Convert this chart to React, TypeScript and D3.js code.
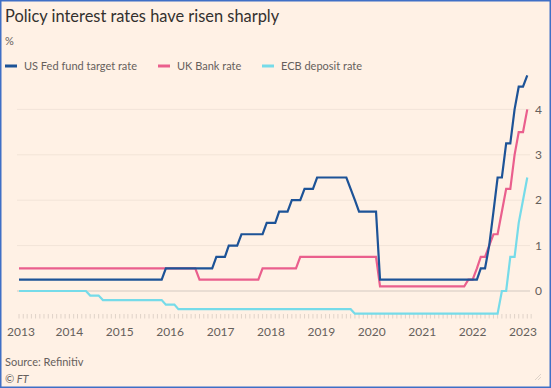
import React from 'react';
import * as d3 from 'd3';

// monthly observations (month-end rate), only the months around each change
const fedRate: [string, number][] = [
  ["2013-01", 0.25], ["2015-11", 0.25], ["2015-12", 0.5], ["2016-11", 0.5], ["2016-12", 0.75],
  ["2017-02", 0.75], ["2017-03", 1.0], ["2017-05", 1.0], ["2017-06", 1.25], ["2017-11", 1.25],
  ["2017-12", 1.5], ["2018-02", 1.5], ["2018-03", 1.75], ["2018-05", 1.75], ["2018-06", 2.0],
  ["2018-08", 2.0], ["2018-09", 2.25], ["2018-11", 2.25], ["2018-12", 2.5], ["2019-07", 2.5],
  ["2019-08", 2.25], ["2019-09", 2.0], ["2019-10", 1.75], ["2020-02", 1.75], ["2020-03", 0.25],
  ["2022-02", 0.25], ["2022-03", 0.5], ["2022-04", 0.5], ["2022-05", 1.0], ["2022-06", 1.75],
  ["2022-07", 2.5], ["2022-08", 2.5], ["2022-09", 3.25], ["2022-10", 3.25], ["2022-11", 4.0],
  ["2022-12", 4.5], ["2023-01", 4.5], ["2023-02", 4.75],
];

const ukRate: [string, number][] = [
  ["2013-01", 0.5], ["2016-07", 0.5], ["2016-08", 0.25], ["2017-10", 0.25], ["2017-11", 0.5],
  ["2018-07", 0.5], ["2018-08", 0.75], ["2020-02", 0.75], ["2020-03", 0.1], ["2021-11", 0.1],
  ["2021-12", 0.25], ["2022-01", 0.25], ["2022-02", 0.5], ["2022-03", 0.75], ["2022-04", 0.75],
  ["2022-05", 1.0], ["2022-06", 1.25], ["2022-07", 1.25], ["2022-08", 1.75], ["2022-09", 2.25],
  ["2022-10", 2.25], ["2022-11", 3.0], ["2022-12", 3.5], ["2023-01", 3.5], ["2023-02", 4.0],
];

const ecbRate: [string, number][] = [
  ["2013-01", 0], ["2014-05", 0], ["2014-06", -0.1], ["2014-08", -0.1], ["2014-09", -0.2],
  ["2015-11", -0.2], ["2015-12", -0.3], ["2016-02", -0.3], ["2016-03", -0.4], ["2019-08", -0.4],
  ["2019-09", -0.5], ["2022-07", -0.5], ["2022-08", 0], ["2022-09", 0], ["2022-10", 0.75],
  ["2022-11", 0.75], ["2022-12", 1.5], ["2023-01", 2.0], ["2023-02", 2.5],
];

const seriesNames = ["US Fed fund target rate", "UK Bank rate", "ECB deposit rate"];
const seriesColors = ["#1d5397", "#ea5f8d", "#76dbe9"];
const yTicks = [0, 1, 2, 3, 4];
const yearTicks = [2013, 2014, 2015, 2016, 2017, 2018, 2019, 2020, 2021, 2022, 2023];

const W = 551;
const H = 388;
const FONT = "Lato, 'Noto Sans', sans-serif";
const TEXT = "#66605c";

const parse = d3.timeParse("%Y-%m");

export default function App() {
  const x = d3.scaleTime()
    .domain([new Date(2013, 0, 1), new Date(2023, 0, 1)])
    .range([19, 523]);
  const y = d3.scaleLinear().domain([0, 4]).range([291, 109.4]);

  const line = d3.line<[string, number]>()
    .x(d => x(parse(d[0]) as Date))
    .y(d => y(d[1]));

  const series = [fedRate, ukRate, ecbRate];
  const months = d3.timeMonth.range(new Date(2013, 0, 1), new Date(2023, 3, 1));

  const legendX = [5, 158, 262];

  return (
    <svg width={W} height={H} style={{ position: 'absolute', left: 0, top: 0 }} fontFamily={FONT}>
      <rect x={0} y={0} width={W} height={H} fill="#fff1e5" />

      <text x={5} y={22} fontSize={16.4} fill="#33302e">Policy interest rates have risen sharply</text>
      <text x={5} y={45} fontSize={11} fill={TEXT}>%</text>

      {seriesNames.map((name, i) => (
        <g key={name} transform={`translate(${legendX[i]},66)`}>
          <line x1={0} x2={12} y1={0} y2={0} stroke={seriesColors[i]} strokeWidth={3} />
          <text x={19} y={0} dy="0.35em" fontSize={11} fill={TEXT}>{name}</text>
        </g>
      ))}

      {yTicks.map(t => (
        <g key={t}>
          <line x1={17} x2={530} y1={y(t)} y2={y(t)}
            stroke={t === 0 ? "#e2d6cc" : "#f2e4d8"} strokeWidth={t === 0 ? 1.6 : 1} />
          <text x={535} y={y(t)} dy="0.35em" fontSize={12} fill={TEXT}>{t}</text>
        </g>
      ))}

      {months.map(m => (
        <line key={m.getTime()} x1={x(m)} x2={x(m)} y1={314} y2={318.5}
          stroke="#d8ccc1" strokeWidth={0.8} />
      ))}
      {yearTicks.map(yr => (
        <text key={yr} x={Math.max(x(new Date(yr, 0, 1)), 21)} y={336} fontSize={12}
          textAnchor="middle" fill={TEXT}>{yr}</text>
      ))}

      {series.map((s, i) => (
        <path key={seriesNames[i]} d={line(s) ?? ""} fill="none"
          stroke={seriesColors[i]} strokeWidth={2.2} strokeLinejoin="miter" />
      )).reverse()}

      <text x={5} y={366} fontSize={11} fill={TEXT}>Source: Refinitiv</text>
      <text x={5} y={383} fontSize={11} fill={TEXT} fontStyle="italic">© FT</text>

      <g stroke="#d6cbc1" strokeWidth={0.8}>
        <line x1={535} y1={380} x2={541} y2={374} />
        <line x1={538} y1={380} x2={541} y2={377} />
      </g>

      <rect x={0.75} y={0.75} width={W - 1.5} height={H - 1.5} fill="none" stroke="#3f6fc6" strokeWidth={1.5} />
    </svg>
  );
}
